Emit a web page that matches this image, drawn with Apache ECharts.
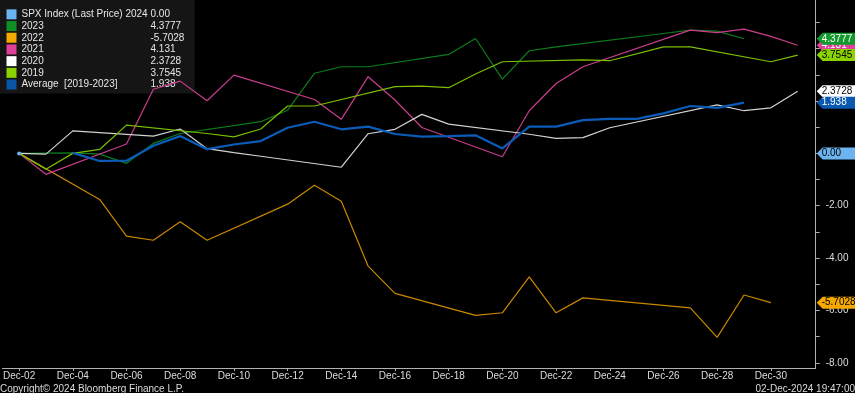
<!DOCTYPE html>
<html><head><meta charset="utf-8">
<script src="https://cdn.jsdelivr.net/npm/echarts@6/dist/echarts.min.js"></script>
<style>html,body{margin:0;padding:0;background:#000;}#c{width:855px;height:393px;}</style>
</head><body><div id="c"></div>
<script>
// ---- data (day of December, % change since Dec-02) ----
const seriesNames = ['SPX Index (Last Price) 2024','2023','2022','2021','2020','2019','Average  [2019-2023]'];
const legendValues = ['0.00','4.3777','-5.7028','4.131','2.3728','3.7545','1.938'];
const tagLabels = ['0.00','4.3777','-5.7028','4.131','2.3728','3.7545','1.938'];
const tagValues = [0.00, 4.3777, -5.7028, 4.131, 2.3728, 3.7545, 1.938];

const days2024 = [2];
const vals2024 = [0];
const days2023 = [2,4,5,6,7,8,11,12,13,14,15,18,19,20,21,22,26,27,28,29];
const vals2023 = [0,0.02,-0.03,-0.38,0.38,0.76,1.21,1.65,3.06,3.31,3.31,3.78,4.39,2.84,3.92,4.07,4.58,4.71,4.67,4.3777];
const days2022 = [2,5,6,7,8,9,12,13,14,15,16,19,20,21,22,23,27,28,29,30];
const vals2022 = [0,-1.76,-3.16,-3.32,-2.61,-3.32,-1.94,-1.22,-1.83,-4.31,-5.35,-6.19,-6.09,-4.72,-6.09,-5.52,-5.90,-7.03,-5.41,-5.7028];
const days2021 = [2,3,6,7,8,9,10,13,14,15,16,17,20,21,22,23,27,28,29,30,31];
const vals2021 = [0,-0.80,0.36,2.45,2.76,2.01,2.99,2.06,1.30,2.93,2.04,0.99,-0.13,1.63,2.67,3.31,4.71,4.61,4.75,4.47,4.131];
const days2020 = [2,3,4,7,8,9,10,11,14,15,16,17,18,21,22,23,24,28,29,30,31];
const vals2020 = [0,-0.03,0.86,0.66,0.93,0.18,0.03,-0.11,-0.53,0.75,0.92,1.49,1.12,0.73,0.57,0.60,0.98,1.85,1.63,1.74,2.3728];
const days2019 = [2,3,4,5,6,9,10,11,12,13,16,17,18,19,20,23,24,26,27,30,31];
const vals2019 = [0,-0.61,0.0,0.15,1.08,0.76,0.63,0.93,1.81,1.81,2.55,2.57,2.51,3.03,3.50,3.57,3.54,4.07,4.07,3.50,3.7545];
const daysAvg = [4,5,6,7,8,9,10,11,12,13,14,15,16,17,18,19,20,21,22,23,24,25,26,27,28,29];
const valsAvg = [0.02,-0.29,-0.28,0.29,0.66,0.16,0.34,0.47,0.98,1.21,0.92,1.02,0.74,0.64,0.66,0.69,0.19,1.02,1.02,1.27,1.32,1.32,1.53,1.81,1.74,1.938];

const xTickDays = [2,4,6,8,10,12,14,16,18,20,22,24,26,28,30];
const xTickLabels = ['Dec-02','Dec-04','Dec-06','Dec-08','Dec-10','Dec-12','Dec-14','Dec-16','Dec-18','Dec-20','Dec-22','Dec-24','Dec-26','Dec-28','Dec-30'];
const yLabelValues = [-8,-6,-4,-2,0];
const yTickValues = [-8,-7,-6,-5,-4,-3,-2,-1,0,1,2,3,4,5];

// ---- styling ----
const lineColors = ['#6cb4f0','#0b7d1c','#c98800','#c93d8d','#d2d2d2','#7cbf00','#0a5cb8'];
const swatchColors = ['#6cb4f0','#0f8f25','#f5a800','#e0409a','#ffffff','#8cd400','#0a55a8'];
const tagBg = ['#6cb4f0','#129a2e','#f5a800','#e0409a','#ffffff','#8cd400','#0a58b0'];
const tagText = ['#000','#fff','#000','#fff','#000','#000','#fff'];
const lineWidths = [1,1.2,1.2,1.2,1.2,1.2,2.2];
const tagZ = [6,7,6,5,6,7,7];

const allDays = [days2024,days2023,days2022,days2021,days2020,days2019,daysAvg];
const allVals = [vals2024,vals2023,vals2022,vals2021,vals2020,vals2019,valsAvg];

const X_MIN = 1.38, X_MAX = 31.67, Y_MIN = -8.2, Y_MAX = 5.86;
const FONT = 'Liberation Sans';

const series = seriesNames.map((name, i) => ({
  name: name,
  type: 'line',
  data: allDays[i].map((d, k) => [d, allVals[i][k]]),
  showSymbol: i === 0,
  symbol: 'circle',
  symbolSize: 4,
  color: lineColors[i],
  lineStyle: { width: lineWidths[i], color: lineColors[i] },
  itemStyle: { color: lineColors[i] },
  clip: false,
  z: 3,
  markPoint: {
    z: tagZ[i],
    silent: true,
    symbol: 'path://M0,6L6,0L40,0L40,12L6,12Z',
    symbolSize: [40, 12],
    symbolOffset: [21, 0],
    itemStyle: { color: tagBg[i] },
    label: {
      show: true, position: 'insideLeft', distance: 5,
      color: tagText[i], fontSize: 10, fontFamily: FONT,
      formatter: () => tagLabels[i]
    },
    data: [{ coord: [X_MAX, tagValues[i]] }]
  }
}));

const chart = echarts.init(document.getElementById('c'), null, { renderer: 'canvas' });
chart.setOption({
  animation: false,
  backgroundColor: '#000',
  grid: { left: 0, right: 39.3, top: 0, bottom: 25, containLabel: false },
  legend: {
    left: 0, top: 0, orient: 'vertical',
    padding: [8.5, 6, 3, 6.5],
    backgroundColor: '#151515',
    z: 1,
    icon: 'rect', itemWidth: 10, itemHeight: 10, itemGap: 0,
    selectedMode: false,
    data: seriesNames.map((n, i) => ({ name: n, itemStyle: { color: swatchColors[i] } })),
    formatter: function (name) {
      const i = seriesNames.indexOf(name);
      return '{n|' + name + '}{v|' + legendValues[i] + '}';
    },
    textStyle: {
      color: '#e6e6e6', fontSize: 10, fontFamily: FONT, lineHeight: 11.7,
      rich: {
        n: { width: 129, color: '#e6e6e6', fontSize: 10, fontFamily: FONT, lineHeight: 11.7 },
        v: { width: 38, color: '#e6e6e6', fontSize: 10, fontFamily: FONT, lineHeight: 11.7 }
      }
    }
  },
  xAxis: {
    type: 'value', min: X_MIN, max: X_MAX,
    axisLine: { show: true, onZero: false, lineStyle: { color: '#b0b0b0', width: 1 } },
    axisTick: { show: true, length: 3, customValues: xTickDays, lineStyle: { color: '#b0b0b0' } },
    axisLabel: {
      customValues: xTickDays, margin: 3, color: '#dcdcdc', fontSize: 10, fontFamily: FONT,
      formatter: v => xTickLabels[xTickDays.indexOf(Math.round(v))] || ''
    },
    splitLine: { show: false }
  },
  yAxis: {
    type: 'value', position: 'right', min: Y_MIN, max: Y_MAX,
    axisLine: { show: true, onZero: false, lineStyle: { color: '#b0b0b0', width: 1 } },
    axisTick: { show: true, length: 4, customValues: yTickValues, lineStyle: { color: '#b0b0b0' } },
    axisLabel: {
      customValues: yLabelValues, margin: 10, color: '#dcdcdc', fontSize: 10, fontFamily: FONT,
      formatter: v => v.toFixed(2)
    },
    splitLine: { show: false }
  },
  graphic: [
    { type: 'text', left: 0, top: 384, style: { text: 'Copyright\u00a9 2024 Bloomberg Finance L.P.', fill: '#dcdcdc', fontSize: 10, fontFamily: FONT } },
    { type: 'text', right: 0, top: 384, style: { text: '02-Dec-2024 19:47:00', fill: '#dcdcdc', fontSize: 10, fontFamily: FONT } }
  ],
  series: series
});
</script>
</body></html>
